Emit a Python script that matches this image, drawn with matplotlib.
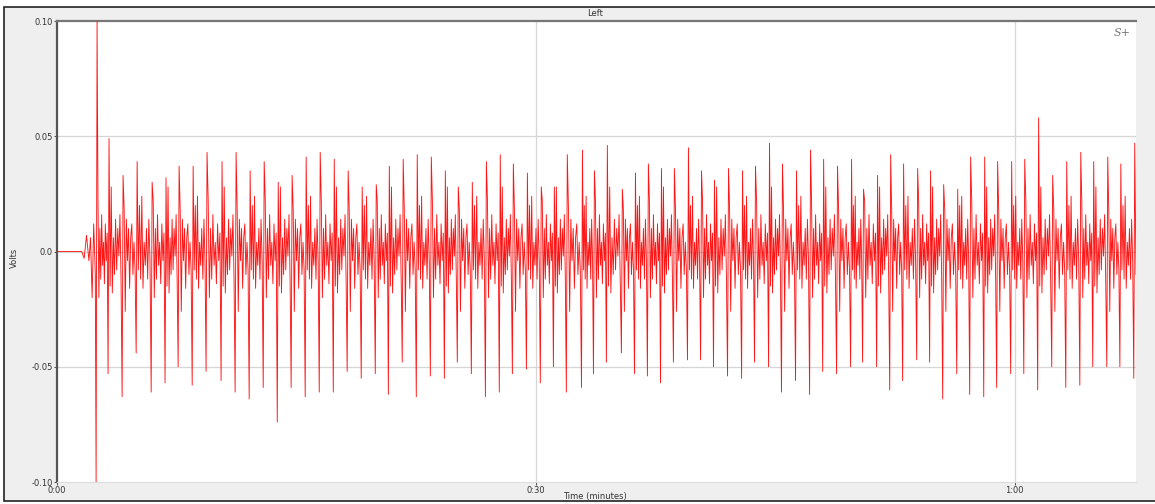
import matplotlib
matplotlib.use("Agg")
import matplotlib.pyplot as plt
from matplotlib.patches import Rectangle

# beat times (s), with R peak and S trough heights (V)
beat_t = [2.51, 3.26, 4.14, 5.02, 5.96, 6.83, 7.65, 8.53, 9.40, 10.34,
          11.22, 12.10, 12.98, 13.86, 14.73, 15.61, 16.49, 17.37, 18.24, 19.12,
          20.00, 20.82, 21.69, 22.57, 23.45, 24.33, 25.14, 26.02, 26.90, 27.77,
          28.59, 29.47, 30.34, 31.16, 31.97, 32.92, 33.67, 34.48, 35.42, 36.24,
          37.05, 37.87, 38.68, 39.56, 40.38, 41.19, 42.07, 42.95, 43.76, 44.64,
          45.45, 46.33, 47.21, 48.03, 48.90, 49.78, 50.53, 51.41, 52.23, 53.04,
          53.92, 54.73, 55.55, 56.43, 57.24, 58.12, 58.93, 59.81, 60.63, 61.50,
          62.38, 63.26, 64.14, 64.95, 65.83, 66.65, 67.52]
beat_peak = [0.100, 0.049, 0.033, 0.039, 0.030, 0.032, 0.037, 0.037, 0.043, 0.039,
             0.043, 0.035, 0.039, 0.030, 0.033, 0.041, 0.043, 0.040, 0.035, 0.028,
             0.029, 0.037, 0.040, 0.042, 0.041, 0.035, 0.028, 0.030, 0.039, 0.042,
             0.038, 0.034, 0.028, 0.028, 0.042, 0.044, 0.035, 0.046, 0.027, 0.034,
             0.038, 0.036, 0.036, 0.045, 0.035, 0.031, 0.036, 0.035, 0.037, 0.047,
             0.038, 0.035, 0.044, 0.040, 0.037, 0.040, 0.027, 0.033, 0.042, 0.038,
             0.036, 0.035, 0.029, 0.027, 0.041, 0.041, 0.039, 0.039, 0.040, 0.058,
             0.033, 0.039, 0.043, 0.039, 0.041, 0.038, 0.047]
beat_trough = [-0.100, -0.053, -0.063, -0.044, -0.061, -0.057, -0.050, -0.058, -0.052, -0.056,
               -0.061, -0.064, -0.059, -0.074, -0.059, -0.063, -0.061, -0.061, -0.052, -0.055,
               -0.053, -0.062, -0.048, -0.063, -0.054, -0.055, -0.048, -0.053, -0.063, -0.061,
               -0.053, -0.051, -0.057, -0.050, -0.061, -0.059, -0.053, -0.048, -0.044, -0.053,
               -0.054, -0.057, -0.048, -0.047, -0.047, -0.050, -0.054, -0.055, -0.048, -0.050,
               -0.061, -0.056, -0.062, -0.052, -0.053, -0.050, -0.048, -0.050, -0.060, -0.056,
               -0.047, -0.048, -0.064, -0.053, -0.062, -0.063, -0.059, -0.053, -0.053, -0.060,
               -0.050, -0.059, -0.058, -0.050, -0.050, -0.050, -0.055]

# flat lead-in before the first beat
lead_t = [0.0, 1.55, 1.70, 1.85, 2.00, 2.10, 2.20, 2.30, 2.40]
lead_v = [0.0, 0.0, -0.003, 0.007, -0.004, 0.006, -0.020, 0.012, -0.010]

ripples = [
    [0.022, -0.020, 0.010, -0.012, 0.016, -0.006, 0.004, -0.014, 0.012, -0.004, 0.008],
    [-0.015, 0.028, -0.018, 0.006, -0.010, 0.014, -0.008, 0.010, -0.002, 0.016, -0.012],
    [0.018, -0.026, 0.014, -0.004, 0.010, -0.016, 0.006, 0.012, -0.010, 0.004, -0.008],
    [-0.008, 0.020, -0.012, 0.024, -0.016, 0.004, -0.006, 0.010, -0.012, 0.014, -0.004],
]
tail_t, tail_v = 67.6, -0.010

# build the trace
ts, vs = list(lead_t), list(lead_v)
for i, t0 in enumerate(beat_t):
    ts += [t0 - 0.06, t0]
    vs += [beat_trough[i], beat_peak[i]]
    if i + 1 < len(beat_t):
        seg = beat_t[i + 1] - 0.06 - t0
        rip = ripples[i % len(ripples)]
        for k, v in enumerate(rip):
            ts.append(t0 + seg * (k + 1) / (len(rip) + 1))
            vs.append(v)
ts.append(tail_t)
vs.append(tail_v)

W, H = 1155, 504
fig = plt.figure(figsize=(W / 100, H / 100), dpi=100, facecolor="white")
fig.patches.append(Rectangle((4 / W, 3 / H), 1.0, 494 / H, transform=fig.transFigure,
                             facecolor="#efefef", edgecolor="#222222", lw=1.2, zorder=-5))

ax = fig.add_axes([57 / W, 1 - 482 / H, (1136 - 57) / W, (482 - 21) / H])
ax.set_zorder(2)
ax.set_facecolor("white")
ax.plot(ts, vs, color="#ff1515", lw=0.65, zorder=3)

ax.set_xlim(0, 67.6)
ax.set_ylim(-0.10, 0.10)
ax.set_yticks([-0.10, -0.05, 0.0, 0.05, 0.10])
ax.set_yticklabels(["-0.10", "-0.05", "0.0", "0.05", "0.10"])
ax.set_xticks([0, 30, 60])
ax.set_xticklabels(["0:00", "0:30", "1:00"])
ax.tick_params(labelsize=6, length=2, width=0.6, colors="#333333", pad=1)

for y in (-0.05, 0.0, 0.05):
    ax.axhline(y, color="#d6d6d6", lw=0.9, zorder=1)
for x in (30, 60):
    ax.axvline(x, color="#d6d6d6", lw=0.9, zorder=1)

ax.spines["left"].set_color("#555555")
ax.spines["left"].set_linewidth(1.6)
ax.spines["top"].set_color("#777777")
ax.spines["top"].set_linewidth(1.6)
ax.spines["bottom"].set_color("#dddddd")
ax.spines["right"].set_visible(False)

fig.text(595 / W, 1 - 497 / H, "Time (minutes)", fontsize=6, color="#333333",
         ha="center", va="center")
fig.text(14 / W, 1 - 258 / H, "Volts", fontsize=6, color="#333333",
         ha="center", va="center", rotation=90)
fig.text(595 / W, 1 - 13 / H, "Left", fontsize=6, color="#333333", ha="center", va="center")
ax.text(0.995, 0.985, "S+", transform=ax.transAxes, ha="right", va="top",
        fontsize=8, style="italic", family="DejaVu Serif", color="#777777")

fig.savefig("out.png", dpi=100, facecolor=fig.get_facecolor())
